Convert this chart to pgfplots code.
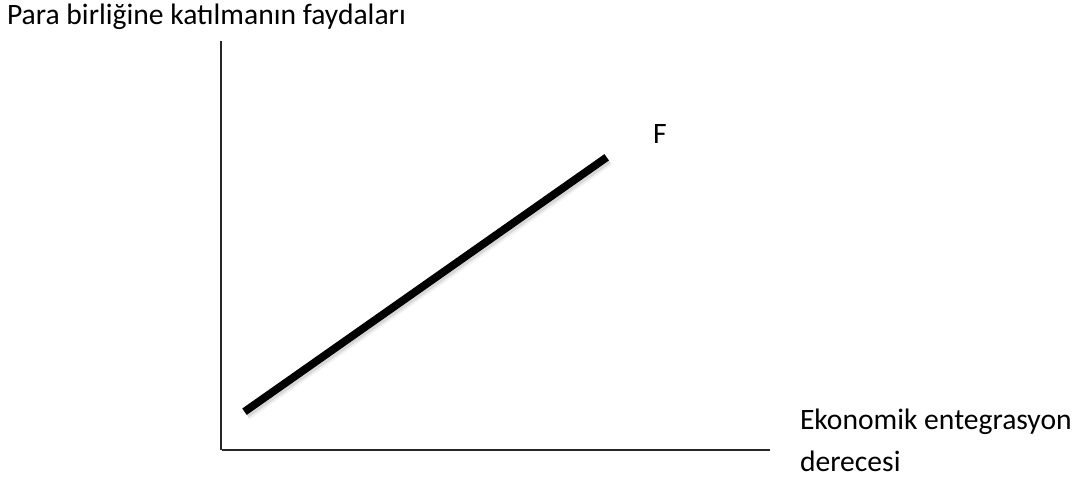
\documentclass[border=0pt]{standalone}
\usepackage{pgfplots}
\pgfplotsset{compat=1.18}
\usepackage{fontspec}
\setmainfont{Carlito}
\tikzset{lbl/.style={font=\fontsize{29.6}{35}\selectfont, inner sep=0pt, outer sep=0pt, anchor=base west}}
\begin{document}
\begin{tikzpicture}
\begin{axis}[
  x=1pt, y=1pt,
  xmin=0, xmax=1080, ymin=0, ymax=479,
  hide axis, clip=false,
]
% shadow of the line
\addplot[no marks, line width=11pt, black, opacity=0.06, line cap=butt] coordinates {(246.5,64.3) (608.7,318.7)};
\addplot[no marks, line width=9pt, black, opacity=0.10, line cap=butt] coordinates {(246.0,65.3) (608.2,319.7)};
% axes drawn as lines
\addplot[no marks, line width=2pt, black!85] coordinates {(220.5,438) (220.5,29)};
\addplot[no marks, line width=2pt, black!85] coordinates {(222,28.5) (770,28.5)};
% F line
\addplot[no marks, line width=7.8pt, black, line cap=butt] coordinates {(244.5,67.3) (606.7,321.7)};
\node[lbl] at (axis cs:7,454) {Para birliğine katılmanın faydaları};
\node[lbl] at (axis cs:653,335.7) {F};
\node[lbl] at (axis cs:800,49) {Ekonomik entegrasyon};
\node[lbl] at (axis cs:800,7) {derecesi};
\end{axis}
\pgfresetboundingbox
\path (0,0) rectangle (1080pt,479pt);
\end{tikzpicture}
\end{document}
